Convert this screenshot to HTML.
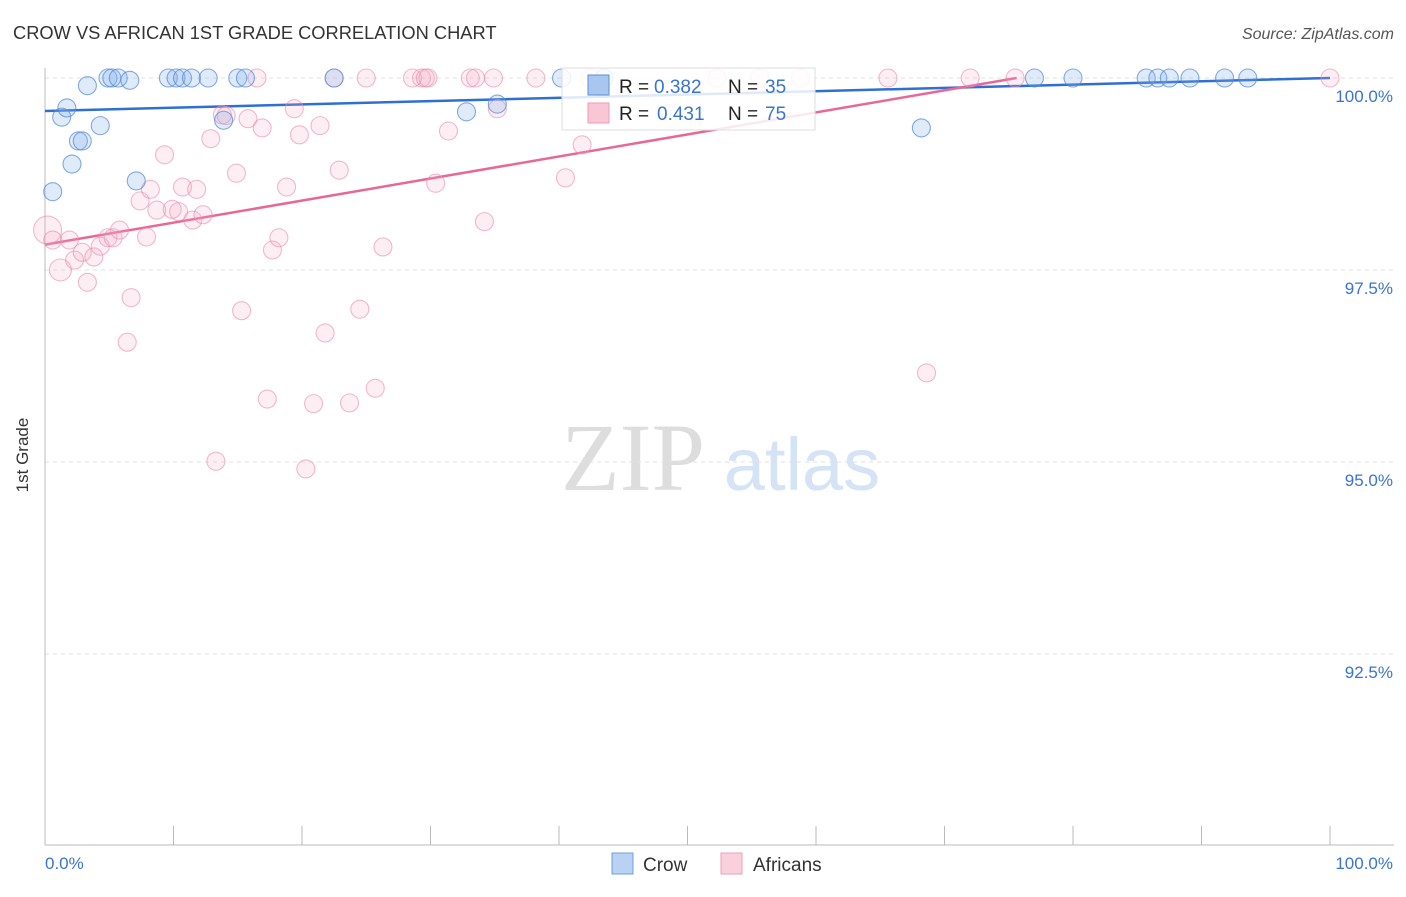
<!DOCTYPE html>
<html><head><meta charset="utf-8"><style>
body{margin:0;background:#fff;font-family:"Liberation Sans",sans-serif;}
svg text{font-family:"Liberation Sans",sans-serif;}
</style></head><body>
<svg id="chart" width="1406" height="892" viewBox="0 0 1406 892">
<text x="13" y="39" font-size="18.3" fill="#333">CROW VS AFRICAN 1ST GRADE CORRELATION CHART</text>
<text x="1394" y="39" font-size="16" fill="#555" text-anchor="end" font-style="italic">Source: ZipAtlas.com</text>
<g>
<text x="633" y="490" font-size="96" fill="#ddd" text-anchor="middle" style="font-family:'Liberation Serif',serif">ZIP</text>
<text x="802" y="490" font-size="74" fill="#d4e3f5" text-anchor="middle">atlas</text>
</g>
<g id="grid"></g>
<g id="axes"></g>
<g id="trend"></g>
<g id="points"></g>
<text x="28" y="455" font-size="17" fill="#333" text-anchor="middle" transform="rotate(-90 28 455)">1st Grade</text>
<g>
<rect x="562" y="68" width="253" height="62" fill="#fff" fill-opacity="0.85" stroke="#ddd"/>
<rect x="588" y="75" width="21" height="20" fill="#a8c6ee" stroke="#5b8fd8"/>
<text x="619" y="93" font-size="19" fill="#222">R =</text>
<text x="654" y="93" font-size="19" fill="#3a74d0">0.382</text>
<text x="728" y="93" font-size="19" fill="#222">N =</text>
<text x="765" y="93" font-size="19" fill="#3a74d0">35</text>
<rect x="588" y="103" width="21" height="20" fill="#f9c6d5" stroke="#ee9ab5"/>
<text x="619" y="120" font-size="19" fill="#222">R =</text>
<text x="657" y="120" font-size="19" fill="#3a74d0">0.431</text>
<text x="728" y="120" font-size="19" fill="#222">N =</text>
<text x="765" y="120" font-size="19" fill="#3a74d0">75</text>
</g>
<g>
<rect x="612" y="853" width="21" height="21" fill="#b9d2f3" stroke="#6d9ce0"/>
<text x="643" y="871" font-size="19" fill="#333">Crow</text>
<rect x="721" y="853" width="21" height="21" fill="#fbd0dd" stroke="#ef9fb8"/>
<text x="753" y="871" font-size="19" fill="#333">Africans</text>
</g>
</svg>
<script>
const crowX=[0.6,1.3,1.7,2.1,2.6,2.9,3.3,4.3,4.9,5.2,5.7,6.6,7.1,9.6,10.2,10.7,11.4,12.7,13.9,15.0,15.6,22.5,32.8,35.2,40.2,43.5,77.0,80.0,85.7,86.6,87.5,89.1,91.8,93.6,68.2];
const crowY=[98.52,99.49,99.61,98.88,99.18,99.18,99.9,99.38,100,100,100,99.97,98.66,100,100,100,100,100,99.45,100,100,100,99.56,99.66,100,100,100,100,100,100,100,100,100,100,99.35];
const afrX=[0.2,0.6,1.2,1.9,2.3,2.9,3.3,3.8,4.3,4.9,5.3,5.8,6.4,6.7,7.4,7.9,8.2,8.7,9.3,9.9,10.4,10.7,11.5,11.8,12.3,12.9,13.3,13.8,14.1,14.9,15.3,15.8,16.5,16.9,17.3,17.7,18.2,18.8,19.4,19.8,20.3,20.9,21.4,21.8,22.5,22.9,23.7,24.5,25.0,25.7,26.3,28.6,29.3,29.6,29.8,30.4,31.4,33.1,33.5,34.2,34.9,35.2,38.2,40.5,41.8,42.4,52.3,55.6,58.8,65.6,68.6,72.0,75.5,100];
const afrY=[98.02,97.89,97.5,97.89,97.63,97.73,97.34,97.67,97.81,97.92,97.92,98.02,96.56,97.14,98.4,97.93,98.55,98.28,99.0,98.29,98.26,98.58,98.15,98.55,98.22,99.21,95.01,99.52,99.51,98.76,96.97,99.47,100,99.35,95.82,97.76,97.92,98.58,99.6,99.26,94.91,95.76,99.38,96.68,100,98.8,95.77,96.99,100,95.96,97.8,100,100,100,100,98.63,99.31,100,100,98.13,100,99.6,100,98.7,99.13,100,100,100,100,100,96.16,100,100,100];
const afrR=[14,9,11];
const trendCrow=[99.57,0.0043];
const trendAfr=[97.83,0.0287];
const yTicks=[100,97.5,95,92.5];
const yTickLabels=["100.0%","97.5%","95.0%","92.5%"];
const xTicks=[0,10,20,30,40,50,60,70,80,90,100];
const NS="http://www.w3.org/2000/svg";
const X=v=>45+v*12.85, Y=v=>78+(100-v)*76.8;
function mk(t,a,p){const e=document.createElementNS(NS,t);for(const k in a)e.setAttribute(k,a[k]);p.appendChild(e);return e;}
const grid=document.getElementById('grid'),axes=document.getElementById('axes');
yTicks.forEach((t,i)=>{
 const l=mk('line',{x1:45,x2:1394,y1:Y(t),y2:Y(t),stroke:'#e2e2e2','stroke-dasharray':'4 4'},grid);
 
 
 const tx=mk('text',{x:1393,y:Y(t)+24,'font-size':17,fill:'#3a74d0','text-anchor':'end'},axes);
 tx.textContent=yTickLabels[i];
 
 
});
const ya=mk('line',{x1:45,x2:45,y1:68,y2:845,stroke:'#bbb'},axes);


const xa=mk('line',{x1:45,x2:1394,y1:845,y2:845,stroke:'#bbb'},axes);


xTicks.forEach(t=>{
 const l=mk('line',{x1:X(t),x2:X(t),y1:826,y2:845,stroke:'#bbb'},axes);
 
 
});
[[0,'0.0%','start',45],[100,'100.0%','end',1393]].forEach(d=>{
 const tx=mk('text',{x:d[3],y:869,'font-size':17,fill:'#3a74d0','text-anchor':d[2]},axes);
 tx.textContent=d[1];
 
 
});
const pts=document.getElementById('points');
afrX.forEach((x,i)=>{
 const c=mk('circle',{cx:X(x),cy:Y(afrY[i]),r:afrR[i]||9,fill:'rgba(246,170,195,0.2)',stroke:'rgba(232,140,172,0.6)','stroke-width':1.1},pts);
 
 
});
crowX.forEach((x,i)=>{
 const c=mk('circle',{cx:X(x),cy:Y(crowY[i]),r:9,fill:'rgba(130,175,235,0.25)',stroke:'rgba(80,135,215,0.7)','stroke-width':1.1},pts);
 
 
});
const tr=document.getElementById('trend');
const cEnd=Math.min(100,(100-trendCrow[0])/trendCrow[1]);
const t1=mk('line',{x1:X(0),y1:Y(trendCrow[0]),x2:X(cEnd),y2:Y(trendCrow[0]+trendCrow[1]*cEnd),stroke:'#2f6fd3','stroke-width':2.5},tr);


const aEnd=Math.min(100,(100-trendAfr[0])/trendAfr[1]);
const t2=mk('line',{x1:X(0),y1:Y(trendAfr[0]),x2:X(aEnd),y2:Y(trendAfr[0]+trendAfr[1]*aEnd),stroke:'#e86895','stroke-width':2.5},tr);


</script>
</body></html>
